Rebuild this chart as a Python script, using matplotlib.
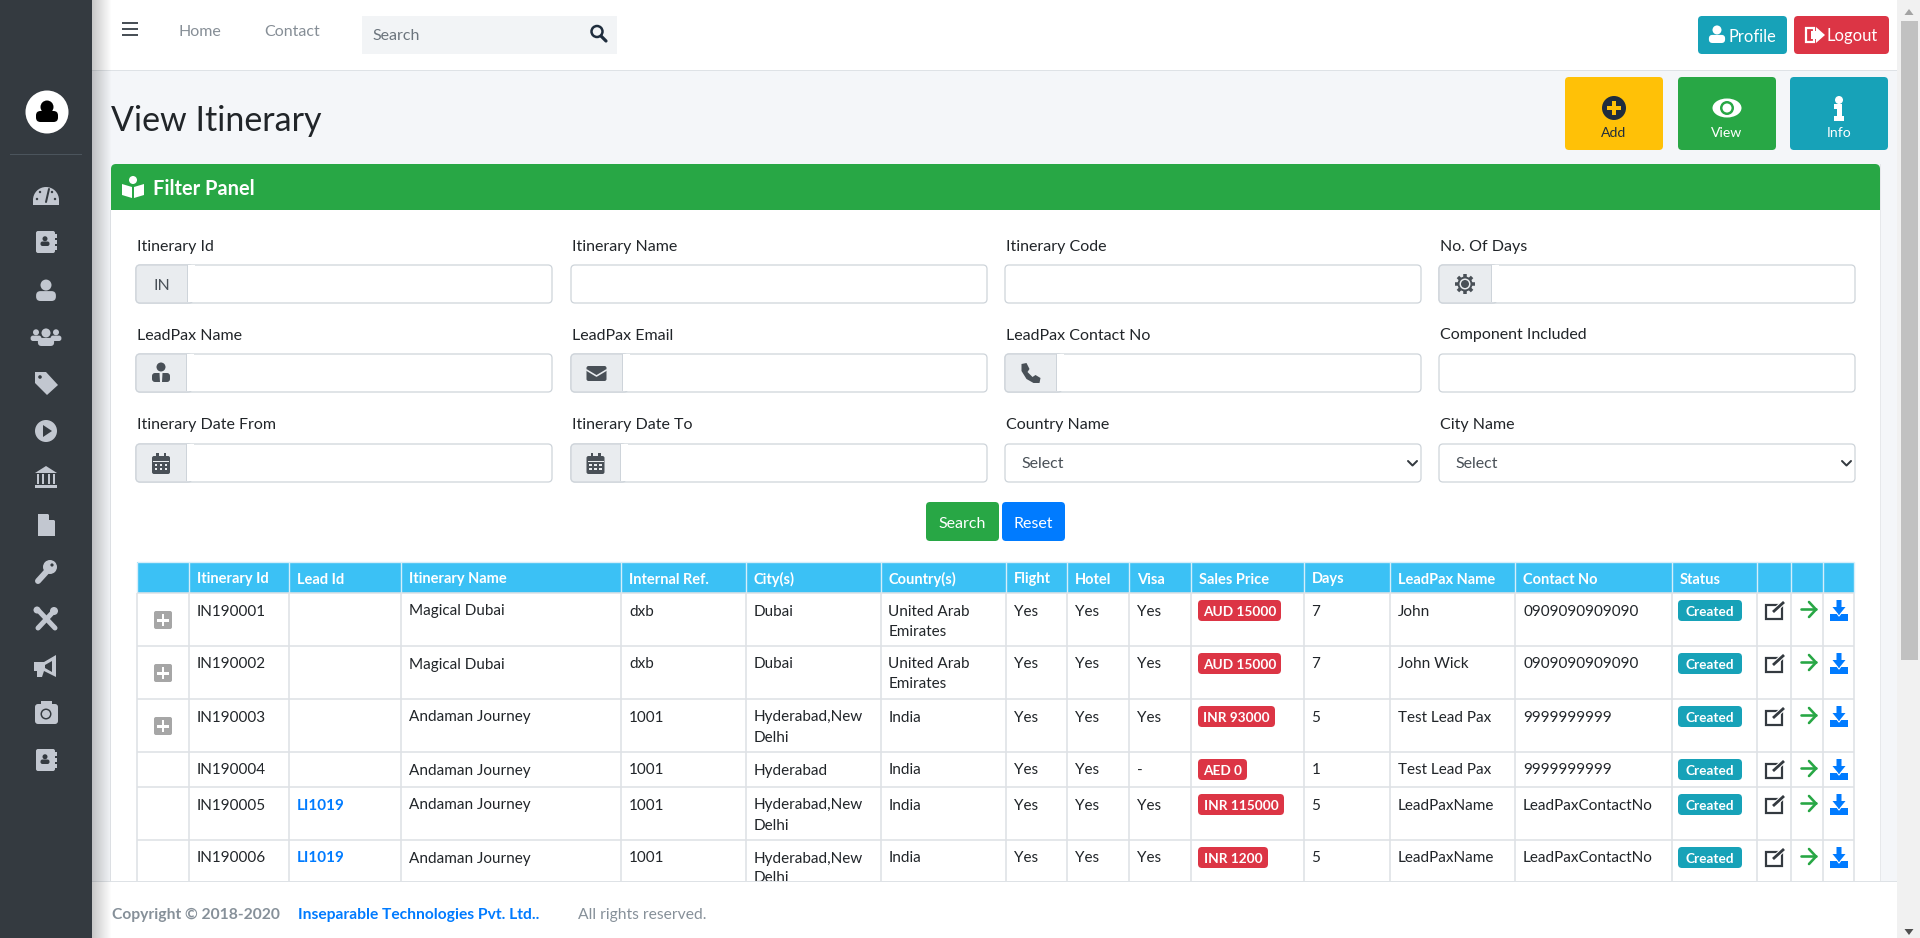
"""
View Itinerary page, drawn on one pixel-sized axes.
"""
import numpy as np
import matplotlib
matplotlib.use("Agg")
import matplotlib.pyplot as plt
from matplotlib.patches import Circle, Ellipse, FancyBboxPatch, Polygon, Rectangle, Wedge

plt.rcParams["font.family"] = ["Lato", "DejaVu Sans"]

W, H = 1920, 938

# Paleta
C_SIDE = "#343a40"
C_SIDE_ICON = "#c2c7d0"
C_BG = "#f4f6f9"
C_GREEN = "#28a745"
C_BLUE = "#007bff"
C_TEAL = "#17a2b8"
C_RED = "#dc3545"
C_YELLOW = "#ffc107"
C_HEAD = "#3bc1f5"
C_LINE = "#dee2e6"
C_INPUT = "#ced4da"
C_ADDON = "#e9ecef"
C_INK = "#212529"
C_ICON = "#495057"

# Table data
COLUMNS = ["", "Itinerary Id", "Lead Id", "Itinerary Name", "Internal Ref.", "City(s)",
           "Country(s)", "Flight", "Hotel", "Visa", "Sales Price", "Days",
           "LeadPax Name", "Contact No", "Status", "", "", ""]
COL_X = [137, 189, 289, 401, 621, 746, 880.5, 1005.5, 1067, 1129, 1191, 1303.5,
         1390, 1515, 1672, 1757, 1791, 1823, 1854]
ROW_Y = [593, 646, 699, 752, 787, 840, 893]
HAS_PLUS = [True, True, True, False, False, False]
ITIN_ID = ["IN190001", "IN190002", "IN190003", "IN190004", "IN190005", "IN190006"]
LEAD_ID = ["", "", "", "", "LI1019", "LI1019"]
ITIN_NAME = ["Magical Dubai", "Magical Dubai", "Andaman Journey", "Andaman Journey",
             "Andaman Journey", "Andaman Journey"]
INT_REF = ["dxb", "dxb", "1001", "1001", "1001", "1001"]
CITY = ["Dubai", "Dubai", "Hyderabad,New\nDelhi", "Hyderabad", "Hyderabad,New\nDelhi",
        "Hyderabad,New\nDelhi"]
COUNTRY = ["United Arab\nEmirates", "United Arab\nEmirates", "India", "India", "India", "India"]
FLIGHT = ["Yes"] * 6
HOTEL = ["Yes"] * 6
VISA = ["Yes", "Yes", "Yes", "-", "Yes", "Yes"]
PRICE = ["AUD 15000", "AUD 15000", "INR 93000", "AED 0", "INR 115000", "INR 1200"]
PRICE_W = [83, 83, 77, 49, 86, 70]
DAYS = ["7", "7", "5", "1", "5", "5"]
LEADPAX = ["John", "John Wick", "Test Lead Pax", "Test Lead Pax", "LeadPaxName", "LeadPaxName"]
CONTACT = ["0909090909090", "0909090909090", "9999999999", "9999999999",
           "LeadPaxContactNo", "LeadPaxContactNo"]
STATUS = ["Created"] * 6

# Filter form
FIELD_X = [136, 571, 1005, 1439]
FIELD_W = 416
FIELD_Y = [265, 354, 444]
LABELS = [["Itinerary Id", "Itinerary Name", "Itinerary Code", "No. Of Days"],
          ["LeadPax Name", "LeadPax Email", "LeadPax Contact No", "Component Included"],
          ["Itinerary Date From", "Itinerary Date To", "Country Name", "City Name"]]
ADDON_W = [[51, 0, 0, 52],
           [50, 51, 51, 0],
           [50, 49, 0, 0]]
ADDON_ICON = [["IN", None, None, "gear"],
              ["suit", "mail", "phone", None],
              ["cal", "cal", None, None]]
SELECTS = [(2, 2), (2, 3)]

SIDE_ICONS = ["gauge", "book", "user", "users", "tag", "play", "bank", "file", "key",
              "tools", "horn", "camera", "book"]
SIDE_Y = [196, 242, 290, 337, 383, 431, 477, 525, 572, 619, 666, 713, 760]

fig = plt.figure(figsize=(W / 100, H / 100), dpi=100, facecolor=C_BG)
ax = fig.add_axes([0, 0, 1, 1])
ax.set_xlim(0, W)
ax.set_ylim(H, 0)
ax.axis("off")


def rect(x, y, w, h, color, z=2, **kw):
    ax.add_patch(Rectangle((x, y), w, h, facecolor=color, edgecolor="none", zorder=z, **kw))


def rrect(x, y, w, h, color, r=4, z=2, ec="none", lw=0):
    ax.add_patch(FancyBboxPatch((x + r, y + r), w - 2 * r, h - 2 * r,
                                boxstyle=f"round,pad={r},rounding_size={r}",
                                facecolor=color, edgecolor=ec, linewidth=lw, zorder=z))


def txt(x, y, s, px=16, color=C_INK, ha="left", weight="normal", z=5):
    ax.text(x, y, s, fontsize=px * 0.72, color=color, ha=ha, va="center_baseline",
            fontweight=weight, zorder=z)


def line(xs, ys, color, lw=1.0, z=3, cap="round"):
    ax.plot(xs, ys, color=color, lw=lw * 0.72, zorder=z, solid_capstyle=cap)


def poly(pts, cx, cy, s, color, z=6):
    pts = np.array(pts, dtype=float) * s + [cx, cy]
    ax.add_patch(Polygon(pts, closed=True, facecolor=color, edgecolor="none", zorder=z))


def disc(cx, cy, r, color, z=6):
    ax.add_patch(Circle((cx, cy), r, facecolor=color, edgecolor="none", zorder=z))


def person(cx, cy, s, color, z=6):
    # head + shoulders, s = half height
    disc(cx, cy - 0.45 * s, 0.5 * s, color, z)
    rrect(cx - 0.9 * s, cy + 0.1 * s, 1.8 * s, 0.9 * s, color, r=0.4 * s, z=z)


def icon(kind, cx, cy, color, bg):
    if kind == "gauge":
        ax.add_patch(Wedge((cx, cy + 4), 13, 180, 360, facecolor=color, zorder=6))
        rect(cx - 13, cy + 3, 26, 6, color, z=6)
        line([cx, cx + 3], [cy + 6, cy - 7], bg, 2, z=7)
        for dx, dy in [(-9, 3), (-6, -4), (6, -4), (9, 3)]:
            disc(cx + dx, cy + dy, 1.2, bg, 7)
    elif kind == "book":
        rrect(cx - 10, cy - 11, 19, 22, color, r=2, z=6)
        person(cx - 1, cy - 1, 5, bg, 7)
        for dy in (-6, 0, 6):
            rect(cx + 9, cy + dy - 2, 2, 4, color, z=6)
    elif kind == "user":
        person(cx, cy, 11, color)
    elif kind == "users":
        person(cx - 10, cy - 2, 6, color)
        person(cx + 10, cy - 2, 6, color)
        person(cx, cy, 9, color, 7)
    elif kind == "tag":
        poly([[-11, -11], [0, -11], [12, 2], [1, 12], [-11, 0]], cx, cy, 1, color)
        disc(cx - 6, cy - 6, 1.8, bg, 7)
    elif kind == "play":
        disc(cx, cy, 11, color)
        poly([[-3, -6], [6, 0], [-3, 6]], cx, cy, 1, bg, 7)
    elif kind == "bank":
        poly([[-11, -4], [0, -11], [11, -4]], cx, cy, 1, color)
        for dx in (-8, -3, 3, 8):
            rect(cx + dx - 1.3, cy - 3, 2.6, 10, color, z=6)
        rect(cx - 11, cy + 8, 22, 3, color, z=6)
    elif kind == "file":
        poly([[-8, -11], [2, -11], [9, -4], [9, 11], [-8, 11]], cx, cy, 1, color)
        poly([[3, -11], [9, -5], [3, -5]], cx, cy, 1, bg, 7)
    elif kind == "key":
        disc(cx + 4, cy - 5, 7, color)
        line([cx + 2, cx - 8], [cy - 2, cy + 9], color, 6, z=6)
        disc(cx + 6, cy - 7, 1.6, bg, 7)
    elif kind == "tools":
        line([cx - 8, cx + 9], [cy - 9, cy + 9], color, 5, z=6)
        line([cx + 8, cx - 8], [cy - 8, cy + 9], color, 5, z=6)
        disc(cx + 8, cy - 8, 4, color)
        disc(cx - 9, cy - 9, 3.5, color)
    elif kind == "horn":
        poly([[-12, -4], [-2, -4], [10, -11], [10, 11], [-2, 5], [-4, 11], [-9, 11], [-9, 5],
              [-12, 5]], cx, cy, 1, color)
        poly([[-1, -1], [6, -5], [6, 6], [-1, 2]], cx, cy, 1, bg, 7)
    elif kind == "camera":
        rrect(cx - 11, cy - 9, 23, 20, color, r=3, z=6)
        rect(cx - 5, cy - 12, 11, 4, color, z=6)
        disc(cx, cy + 1, 5.5, bg, 7)
        disc(cx, cy + 1, 4, color, 8)
    elif kind == "gear":
        for a in np.arange(0, 180, 45):
            dx, dy = 10 * np.cos(np.radians(a)), 10 * np.sin(np.radians(a))
            line([cx - dx, cx + dx], [cy - dy, cy + dy], color, 3.5, z=6, cap="butt")
        disc(cx, cy, 7.5, color)
        disc(cx, cy, 5.5, bg, 7)
        disc(cx, cy, 4, color, 8)
    elif kind == "suit":
        disc(cx, cy - 6, 4.5, color)
        rrect(cx - 9, cy, 18, 9, color, r=3, z=6)
        poly([[-1.5, 0], [1.5, 0], [1, 9], [-1, 9]], cx, cy, 1, bg, 7)
    elif kind == "mail":
        rrect(cx - 10, cy - 7, 20, 15, color, r=2, z=6)
        line([cx - 10, cx, cx + 10], [cy - 3, cy + 3, cy - 3], bg, 1.6, z=7)
    elif kind == "phone":
        poly([[-9, -9], [-4, -10], [-1, -4], [-3, -1], [2, 4], [5, 2], [10, 5], [9, 10],
              [3, 10], [-4, 6], [-9, -2]], cx, cy, 1, color)
    elif kind == "cal":
        rrect(cx - 9, cy - 7, 18, 18, color, r=2, z=6)
        rect(cx - 5, cy - 10, 2.5, 4, color, z=6)
        rect(cx + 2.5, cy - 10, 2.5, 4, color, z=6)
        rect(cx - 8, cy - 2, 16, 1, bg, z=7)
        for dx in (-5, 0, 5):
            for dy in (2, 6):
                rect(cx + dx - 1.2, cy + dy - 1, 2.4, 2.2, bg, z=7)


# ── Fundo e barras ────────────────────────────────────────────────────────────
rect(0, 0, 92, H, C_SIDE, z=1)
rect(92, 0, 1805, 70, "white", z=1)
rect(92, 70, 1805, 1.2, "#dee2e6", z=1.5)
rect(1897, 0, 23, H, "#f1f1f1", z=20)
rect(1901, 21, 17, 639, "#c1c1c1", z=21)
poly([[-4.5, 3], [0, -3], [4.5, 3]], 1909, 12, 1, "#a3a3a3", z=21)
poly([[-4.5, -3], [0, 3], [4.5, -3]], 1909, 932, 1, "#505050", z=21)

# Panel
rrect(111, 164, 1769, 60, C_GREEN, r=5, z=2)
rect(111, 210, 1769, 700, "white", z=2)
rect(110, 210, 1, 700, "#dfe2e6", z=2)
rect(1880, 164, 1, 746, "#e6e8eb", z=2)
rect(111, 190, 1769, 20, C_GREEN, z=2.1)

# Sombra da barra lateral
grad = np.linspace(0.22, 0, 40).reshape(1, -1)
shadow = np.zeros((1, 40, 4))
shadow[..., 3] = grad
ax.imshow(shadow, extent=(92, 112, H, 0), aspect="auto", zorder=9, interpolation="bilinear")
ax.set_xlim(0, W)
ax.set_ylim(H, 0)

# Footer
rect(92, 882, 1805, 56, "white", z=8.5)
rect(92, 881, 1805, 1.5, C_LINE, z=8.6)

# ── Sidebar ───────────────────────────────────────────────────────────────────
disc(47, 112, 21.5, "white", 3)
disc(47, 107, 6.5, "black", 4)
rrect(36, 111, 22, 11, "black", r=4.5, z=4)
rect(10, 154, 72, 1, "#4b545c", z=3)
for kind, yy in zip(SIDE_ICONS, SIDE_Y):
    icon(kind, 46, yy, C_SIDE_ICON, C_SIDE)

# ── Navbar ────────────────────────────────────────────────────────────────────
for yy in (23, 29, 35):
    rect(122, yy - 1.2, 16, 2.4, "#495057", z=5)
txt(179, 30, "Home", 16, "#868e96")
txt(264, 30, "Contact", 16, "#868e96")
rect(362, 16, 255, 38, "#f2f4f6", z=3)
txt(372, 35, "Search", 16, "#6c757d")
ax.add_patch(Circle((597, 31.5), 5.5, facecolor="none", edgecolor="#1f2d3d", lw=1.8, zorder=6))
line([601, 606], [36, 41], "#1f2d3d", 3.2, z=6)

rrect(1698, 16, 89, 38, C_TEAL)
person(1717, 34, 9, "white")
txt(1728, 35, "Profile", 16.5, "white")
rrect(1794, 16, 95, 38, C_RED)
poly([[0, -8], [9, 0], [0, 8], [0, 4], [-5, 4], [-5, -4], [0, -4]], 1816, 35, 1, "white")
ax.add_patch(Rectangle((1806, 28), 8, 14, fill=False, ec="white", lw=1.6, zorder=6))
txt(1827, 35, "Logout", 16.5, "white")

# ── Título e botões ───────────────────────────────────────────────────────────
txt(111, 118, "View Itinerary", 34, "#212529")

rrect(1565, 77, 98, 73, C_YELLOW)
disc(1614, 108, 12, "#1f2d3d")
rect(1607, 106, 14, 4, C_YELLOW, z=7)
rect(1612, 101, 4, 14, C_YELLOW, z=7)
txt(1614, 132, "Add", 14, "#1f2d3d", ha="center")

rrect(1678, 77, 98, 73, C_GREEN)
ax.add_patch(Ellipse((1727, 108), 29, 19, facecolor="white", zorder=6))
disc(1727, 108, 7, C_GREEN, 7)
disc(1727, 108, 4.5, "white", 8)
txt(1727, 132, "View", 14, "white", ha="center")

rrect(1790, 77, 98, 73, C_TEAL)
disc(1839, 100, 4, "white")
poly([[-5, -5], [3, -5], [3, 7], [5, 7], [5, 12], [-5, 12], [-5, 7], [-2, 7], [-2, 0], [-5, 0]],
     1839, 109, 1, "white")
txt(1839, 132, "Info", 14, "white", ha="center")

# ── Filter panel ──────────────────────────────────────────────────────────────
disc(133, 180, 4, "white")
poly([[-11, -3], [-1, 0], [-1, 11], [-11, 8]], 133, 187, 1, "white")
poly([[11, -3], [1, 0], [1, 11], [11, 8]], 133, 187, 1, "white")
txt(153, 187, "Filter Panel", 20, "white", weight="bold")

for r, (fy, labels) in enumerate(zip(FIELD_Y, LABELS)):
    for c, (fx, label) in enumerate(zip(FIELD_X, labels)):
        txt(fx + 1, fy - 20, label, 16, C_INK)
        rrect(fx, fy, FIELD_W, 38, "white", r=4, z=3, ec=C_INPUT, lw=0.9)
        aw = ADDON_W[r][c]
        if aw:
            rrect(fx, fy, aw + 6, 38, C_ADDON, r=4, z=3.1, ec=C_INPUT, lw=0.9)
            rect(fx + aw, fy + 0.5, 8, 37, "white", z=3.2)
            rect(fx + aw, fy + 0.5, 1, 37, C_INPUT, z=3.3)
            what = ADDON_ICON[r][c]
            if what == "IN":
                txt(fx + aw / 2, fy + 19, what, 16, C_ICON, ha="center")
            else:
                icon(what, fx + aw / 2, fy + 19, C_ICON, C_ADDON)

for r, c in SELECTS:
    fx, fy = FIELD_X[c], FIELD_Y[r]
    txt(fx + 16, fy + 19, "Select", 16, C_ICON)
    line([fx + 403, fx + 407.5, fx + 412], [fy + 17, fy + 21.5, fy + 17], "#343a40", 2, z=6)

rrect(926, 502, 73, 39, C_GREEN)
txt(962.5, 522, "Search", 16, "white", ha="center")
rrect(1002, 502, 63, 39, C_BLUE)
txt(1033.5, 522, "Reset", 16, "white", ha="center")

# ── Tabela ────────────────────────────────────────────────────────────────────
rect(COL_X[0], 562, COL_X[-1] - COL_X[0], 31, C_HEAD, z=3)
for cx in COL_X:
    line([cx, cx], [593, ROW_Y[-1]], C_LINE, 1.6, z=3.5, cap="butt")
    line([cx, cx], [562, 593], "#d5eefa", 1.4, z=3.5, cap="butt")
for ry in ROW_Y[:-1]:
    line([COL_X[0], COL_X[-1]], [ry, ry], C_LINE, 1.6, z=3.5, cap="butt")
line([COL_X[0], COL_X[-1]], [562, 562], "#d5eefa", 1.4, z=3.5, cap="butt")

for cx, name in zip(COL_X, COLUMNS):
    if name:
        txt(cx + 8, 578, name, 14.6, "white", weight="bold")

TEXT_COLS = {1: ITIN_ID, 3: ITIN_NAME, 4: INT_REF, 5: CITY, 6: COUNTRY, 7: FLIGHT, 8: HOTEL,
             9: VISA, 11: DAYS, 12: LEADPAX, 13: CONTACT}

for i, ry in enumerate(ROW_Y[:-1]):
    for col, values in TEXT_COLS.items():
        for k, part in enumerate(values[i].split("\n")):
            txt(COL_X[col] + 8, ry + 17 + k * 20, part, 15.2, C_INK)
    txt(COL_X[2] + 8, ry + 17, LEAD_ID[i], 15.2, C_BLUE, weight="bold")

    if HAS_PLUS[i]:
        rrect(154, ry + 18, 18, 18, "#a6a6a6", r=2, z=4)
        rect(157, ry + 26, 12, 2.6, "white", z=5)
        rect(161.7, ry + 21, 2.6, 12, "white", z=5)

    rrect(COL_X[10] + 7, ry + 7, PRICE_W[i], 21, C_RED, r=4, z=4)
    txt(COL_X[10] + 7 + PRICE_W[i] / 2, ry + 18, PRICE[i], 13.6, "white", ha="center", weight="bold")
    rrect(1678, ry + 7, 64, 21, C_TEAL, r=4, z=4)
    txt(1710, ry + 18, STATUS[i], 13.6, "white", ha="center", weight="bold")

    # edit
    ax.add_patch(Rectangle((1766, ry + 12), 16, 14, fill=False, ec="#343a40", lw=1.6, zorder=6))
    line([1772, 1784], [ry + 20, ry + 9], "white", 5, z=6.5, cap="butt")
    line([1773, 1784], [ry + 19, ry + 9], "#343a40", 2.8, z=7, cap="butt")
    # arrow
    line([1801, 1816], [ry + 16.5, ry + 16.5], C_GREEN, 2.6, z=6)
    line([1809, 1816, 1809], [ry + 9, ry + 16.5, ry + 24], C_GREEN, 2.6, z=6)
    # download
    rect(1830, ry + 21, 18, 7, C_BLUE, z=6)
    poly([[-2.5, -10], [2.5, -10], [2.5, -3], [6.5, -3], [0, 5], [-6.5, -3], [-2.5, -3]],
         1839, ry + 17, 1, C_BLUE, z=7)
    line([1831, 1836, 1839, 1842, 1847], [ry + 19, ry + 19, ry + 23, ry + 19, ry + 19], "white", 1.2, z=6.5)

# Footer text
txt(112.5, 913, "Copyright © 2018-2020", 15.6, "#869099", weight="bold", z=11)
txt(298, 913, "Inseparable Technologies Pvt. Ltd..", 15.6, C_BLUE, weight="bold", z=11)
txt(578, 913, "All rights reserved.", 15.6, "#869099", z=11)

fig.savefig("out.png", dpi=100, facecolor=C_BG)
plt.close(fig)
